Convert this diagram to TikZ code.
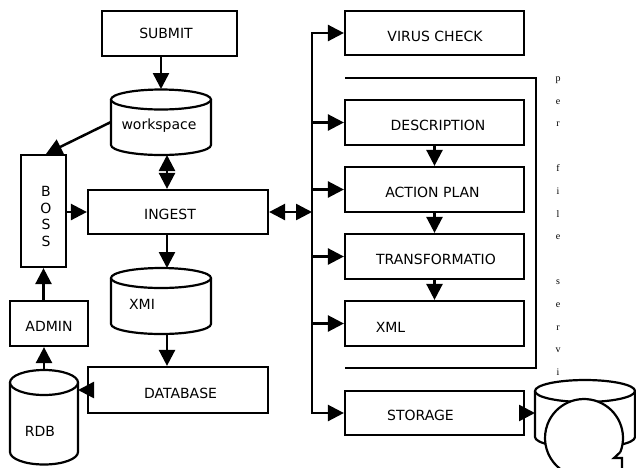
\documentclass[tikz,border=0pt]{standalone}
\usepackage{fontspec}
\setmainfont{DejaVu Sans}
\newfontfamily\serifletters{Liberation Serif}
\usetikzlibrary{arrows.meta}
\tikzset{
  box/.style={draw, line width=2.2pt, fill=white, inner sep=0pt},
  wbox/.style={box, minimum width=179pt, minimum height=45pt},
  lbl/.style={inner sep=0pt, font=\fontsize{14}{16.4}\selectfont, text height=10.2pt, text depth=0pt},
  lblv/.style={inner sep=0pt, align=center, font=\fontsize{14}{16.4}\selectfont},
  hold/.style={inner sep=0pt, outer sep=0pt},
  cyl/.style={line width=2.2pt, fill=white},
  arr/.style={line width=2.5pt, -{Triangle[length=16pt,width=16pt]}},
  darr/.style={line width=2.5pt, {Triangle[length=16pt,width=16pt]}-{Triangle[length=16pt,width=16pt]}},
  bracket/.style={line width=1.5pt},
  ltr/.style={inner sep=0pt, font=\serifletters\fontsize{10}{11}\selectfont, anchor=base}
}
\newcommand\mycyl[5]{%
  \draw[cyl] (#1,#3) -- (#1,#4) arc[start angle=180, end angle=0, x radius={(#2-#1)/2}, y radius=#5] -- (#2,#3);
  \draw[cyl] ({(#1+#2)/2},#3) ellipse[x radius={(#2-#1)/2}, y radius=#5];
}
\begin{document}
\begin{tikzpicture}[x=1pt,y=-1pt]
\useasboundingbox (0,0) rectangle (636,467);

% boxes
\node[box, minimum width=135pt, minimum height=45pt] (submit) at (169.5,33.5) {};
\node[box, minimum width=180pt, minimum height=44pt] (ingest) at (178,212) {};
\node[box, minimum width=180pt, minimum height=46pt] (db) at (178,390) {};
\node[box, minimum width=45pt, minimum height=112pt] (boss) at (43.5,211) {};
\node[box, minimum width=78pt, minimum height=45pt] (admin) at (49,323.5) {};
\node[wbox, minimum height=44pt] (virus) at (434.5,33) {};
\node[wbox] (desc) at (434.5,122.5) {};
\node[wbox] (action) at (434.5,189.5) {};
\node[wbox] (trans) at (434.5,256.5) {};
\node[wbox] (xml) at (434.5,323.5) {};
\node[wbox, minimum height=44pt] (storage) at (434.5,413) {};

% cylinders
\mycyl{111}{211}{99.5}{145}{10}
\mycyl{111}{211}{278}{324}{10}
\mycyl{10}{78}{382.5}{452}{12.5}
\node[hold, minimum width=100pt, minimum height=66pt] (ws) at (161,122) {};
\node[hold, minimum width=100pt, minimum height=66pt] (xmi) at (161,301) {};
\node[hold, minimum width=68pt, minimum height=95pt] (rdb) at (44,417.5) {};
\node[hold, minimum width=100pt, minimum height=68pt] (sc) at (585,414) {};

% texts
\node[lbl] (tsubmit) at (166,33) {SUBMIT};
\node[lbl] (tws) at (159,124) {workspace};
\node[lbl] (tingest) at (170,214) {INGEST};
\node[lbl] (txmi) at (142,304) {XMI};
\node[lbl] (tdb) at (180.5,393) {DATABASE};
\node[lbl] (trdb) at (40,431) {RDB};
\node[lbl] (tadmin) at (49,326) {ADMIN};
\node[lblv] (tboss) at (46,216.5) {B\\O\\S\\S};
\node[lbl] (tvirus) at (435,36) {VIRUS CHECK};
\node[lbl] (tdesc) at (438,125) {DESCRIPTION};
\node[lbl] (taction) at (432.5,192) {ACTION PLAN};
\node[lbl] (ttrans) at (436,259) {TRANSFORMATIO};
\node[lbl] (txml) at (390.5,327) {XML};
\node[lbl] (tstorage) at (420.5,415) {STORAGE};

% vertical serif text
\foreach \c/\k in {p/0,e/1,r/2,f/4,i/5,l/6,e/7,s/9,e/10,r/11,v/12,i/13}
  \node[ltr] (pf\k) at (558,{81.5+22.6*\k}) {\c};

% left connectors
\coordinate (cx) at (167,0);
\draw[arr] (submit.south -| ws.north) -- (ws.north);
\draw[arr] (ws.west) -- ([xshift=2.5pt]boss.north);
\draw[darr] (cx |- ws.south) -- (cx |- ingest.north);
\draw[arr] (cx |- ingest.south) -- (cx |- xmi.north);
\draw[arr] (cx |- xmi.south) -- (cx |- db.north);
\draw[arr] (boss.east |- ingest.west) -- (ingest.west);
\draw[arr] (boss.south |- admin.north) -- (boss.south);
\draw[arr] (rdb.north) -- (rdb.north |- admin.south);
\draw[arr] ([xshift=5pt]db.west) -- (db.west -| rdb.east);

% bus
\coordinate (bt) at (312,33);
\coordinate (bb) at (312,413);
\draw[line width=2.5pt, line cap=rect] (bt) -- (bb);
\draw[darr] (ingest.east) -- (ingest.east -| bt);
\draw[arr] (bt) -- (virus.west);
\draw[arr] (bt |- desc.west) -- (desc.west);
\draw[arr] (bt |- action.west) -- (action.west);
\draw[arr] (bt |- trans.west) -- (trans.west);
\draw[arr] (bt |- xml.west) -- (xml.west);
\draw[arr] (bb) -- (storage.west);
\draw[arr] (desc.south) -- (action.north);
\draw[arr] (action.south) -- (trans.north);
\draw[arr] (trans.south) -- (xml.north);

% bracket
\draw[bracket] (345,78) -- (536,78) -- (536,368) -- (345,368);

% storage cylinder and bubble
\mycyl{535}{635}{391}{437}{11}
\draw[arr] (storage.east) -- (storage.east -| sc.west);
\fill[white] (620.4,452) arc[start angle=21, end angle=-270, radius=39] -- (622,479) -- (622,458) -- (614,458) -- cycle;
\draw[line width=2.2pt] (620.4,452) arc[start angle=21, end angle=-270, radius=39];
\draw[line width=2.2pt, line join=miter] (620.4,452) -- (614,458) -- (622,458) -- (622,470);
\end{tikzpicture}
\end{document}
